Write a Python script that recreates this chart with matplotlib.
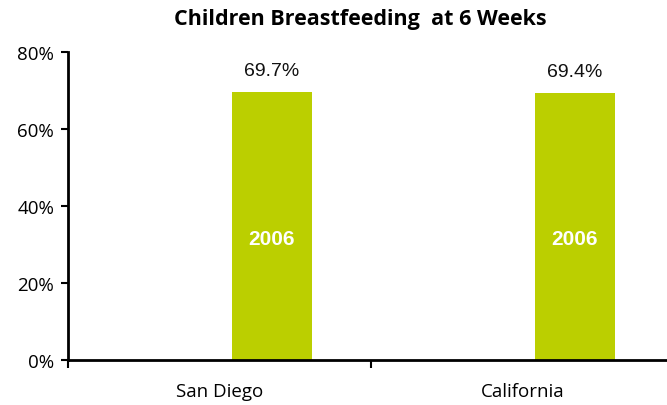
import matplotlib.pyplot as plt
import numpy as np

categories = ["San Diego", "California"]
values = [69.7, 69.4]
series_label = "2006"
yticks = [0, 20, 40, 60, 80]

green = "#BBCF00"

fig = plt.figure(figsize=(6.67, 4.06), dpi=100)
ax = fig.add_axes([68 / 667, 1 - 361 / 406, 606 / 667, 308 / 406])

x = np.arange(len(categories))
offset = 0.172
width = 0.264
bars = ax.bar(x + offset, values, width=width, color=green)

for xi, v in zip(x, values):
    ax.text(xi + offset, v + 3.2, f"{v:.1f}%", ha="center", va="bottom",
            fontsize=14, family="Liberation Sans", color="#111111")
    ax.text(xi + offset, 31.5, series_label, ha="center", va="center",
            fontsize=15, fontweight="bold", family="Liberation Sans", color="white")

ax.set_xlim(-0.5, len(categories) - 0.5)
ax.set_ylim(0, 80)
ax.set_yticks(yticks)
ax.set_yticklabels([f"{t}%" for t in yticks], family="Open Sans", fontsize=13.5)

ax.set_xticks(np.arange(len(categories) + 1) - 0.5)
ax.set_xticklabels([])
ax.set_xticks(x, minor=True)
ax.set_xticklabels(categories, minor=True, family="Open Sans", fontsize=13.5)
ax.tick_params(axis="x", which="minor", length=0, pad=16)
ax.tick_params(axis="x", which="major", length=6, width=1.5, direction="out")
ax.tick_params(axis="y", length=5, width=1.5, direction="out", pad=5)

for s in ["top", "right"]:
    ax.spines[s].set_visible(False)
for s in ["left", "bottom"]:
    ax.spines[s].set_linewidth(2)
ax.spines["bottom"].set_clip_on(False)

fig.text(360 / 667, 1 - 20 / 406, "Children Breastfeeding  at 6 Weeks",
         ha="center", va="center", fontsize=15.5, fontweight="bold",
         family="Open Sans")

fig.savefig("out.png", dpi=100)
